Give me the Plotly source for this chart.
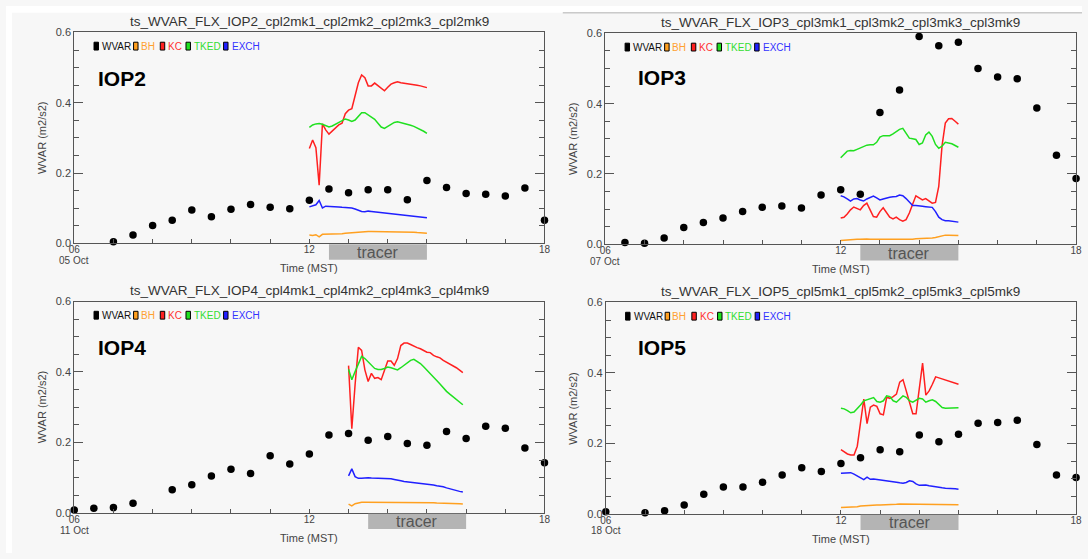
import plotly.graph_objects as go

W, H = 1088, 559
FONT = "Liberation Sans, Arial, sans-serif"

# ---------------- data ----------------
series_names = ["WVAR", "BH", "KC", "TKED", "EXCH"]
series_colors = ["#000000", "#ffa020", "#ff2020", "#20e020", "#2020ff"]
legend_text_colors = ["#111111", "#ffa030", "#ff3030", "#33dd33", "#3333ff"]

iop_names = ["IOP2", "IOP3", "IOP4", "IOP5"]
iop_dates = ["05 Oct", "07 Oct", "11 Oct", "18 Oct"]
iop_titles = [
    "ts_WVAR_FLX_IOP2_cpl2mk1_cpl2mk2_cpl2mk3_cpl2mk9",
    "ts_WVAR_FLX_IOP3_cpl3mk1_cpl3mk2_cpl3mk3_cpl3mk9",
    "ts_WVAR_FLX_IOP4_cpl4mk1_cpl4mk2_cpl4mk3_cpl4mk9",
    "ts_WVAR_FLX_IOP5_cpl5mk1_cpl5mk2_cpl5mk3_cpl5mk9",
]
x_tick_vals = [6, 12, 18]
x_tick_text = ["06", "12", "18"]
tracer_start = [12.5, 12.5, 13.5, 12.5]
tracer_end = [15.0, 15.0, 16.0, 15.0]
line_start = [12.0, 12.0, 13.0, 12.0]   # hour (MST) of first 5-min model value

# WVAR observations (half-hourly)
iop2_wvar_t = [7.0, 7.5, 8.0, 8.5, 9.0, 9.5, 10.0, 10.5, 11.0, 11.5, 12.0, 12.5,
               13.0, 13.5, 14.0, 14.5, 15.0, 15.5, 16.0, 16.5, 17.0, 17.5, 18.0]
iop2_wvar = [0.005, 0.024, 0.051, 0.066, 0.095, 0.076, 0.097, 0.111, 0.103, 0.099, 0.123, 0.155,
             0.144, 0.153, 0.153, 0.124, 0.179, 0.159, 0.142, 0.140, 0.135, 0.158, 0.066]

iop3_wvar_t = [6.5, 7.0, 7.5, 8.0, 8.5, 9.0, 9.5, 10.0, 10.5, 11.0, 11.5, 12.0,
               12.5, 13.0, 13.5, 14.0, 14.5, 15.0, 15.5, 16.0, 16.5, 17.0, 17.5, 18.0]
iop3_wvar = [0.005, 0.003, 0.018, 0.048, 0.062, 0.075, 0.093, 0.105, 0.109, 0.103, 0.140, 0.155,
             0.142, 0.375, 0.439, 0.591, 0.565, 0.575, 0.500, 0.476, 0.471, 0.388, 0.253, 0.187]

iop4_wvar_t = [6.0, 6.5, 7.0, 7.5, 8.5, 9.0, 9.5, 10.0, 10.5, 11.0, 11.5, 12.0,
               12.5, 13.0, 13.5, 14.0, 14.5, 15.0, 15.5, 16.0, 16.5, 17.0, 17.5, 18.0]
iop4_wvar = [0.008, 0.013, 0.015, 0.027, 0.066, 0.080, 0.105, 0.124, 0.112, 0.162, 0.139, 0.167,
             0.221, 0.225, 0.206, 0.217, 0.197, 0.192, 0.231, 0.211, 0.246, 0.240, 0.184, 0.142]

iop5_wvar_t = [6.0, 7.0, 7.5, 8.0, 8.5, 9.0, 9.5, 10.0, 10.5, 11.0, 11.5, 12.0,
               12.5, 13.0, 13.5, 14.0, 14.5, 15.0, 15.5, 16.0, 16.5, 17.0, 17.5, 18.0]
iop5_wvar = [0.006, 0.003, 0.009, 0.025, 0.056, 0.076, 0.076, 0.090, 0.110, 0.131, 0.120, 0.143,
             0.159, 0.182, 0.176, 0.224, 0.205, 0.226, 0.257, 0.259, 0.266, 0.197, 0.110, 0.103]

# model values, every 5 minutes from line_start
iop2_bh = [0.024, 0.023, 0.025, 0.019, 0.026, 0.026, 0.026, 0.027, 0.027, 0.028,
           0.028, 0.029, 0.030, 0.031, 0.032, 0.033, 0.034, 0.034, 0.034, 0.034,
           0.034, 0.034, 0.034, 0.034, 0.034, 0.034, 0.034, 0.034, 0.033, 0.033,
           0.033, 0.033, 0.032, 0.031, 0.031, 0.030, 0.029]
iop2_kc = [0.270, 0.294, 0.272, 0.166, 0.340, 0.323, 0.311, 0.320, 0.330, 0.337,
           0.342, 0.369, 0.379, 0.383, 0.420, 0.457, 0.479, 0.471, 0.448, 0.448,
           0.456, 0.448, 0.441, 0.434, 0.444, 0.453, 0.457, 0.460, 0.457, 0.456,
           0.455, 0.453, 0.452, 0.450, 0.448, 0.446, 0.443]
iop2_tked = [0.330, 0.337, 0.340, 0.341, 0.339, 0.334, 0.331, 0.334, 0.339, 0.344,
             0.348, 0.354, 0.351, 0.347, 0.351, 0.363, 0.372, 0.372, 0.365, 0.358,
             0.353, 0.342, 0.331, 0.327, 0.332, 0.337, 0.344, 0.346, 0.344, 0.341,
             0.339, 0.336, 0.333, 0.329, 0.325, 0.319, 0.313]
iop2_exch = [0.104, 0.106, 0.110, 0.122, 0.101, 0.106, 0.106, 0.105, 0.104, 0.104,
             0.103, 0.103, 0.102, 0.101, 0.098, 0.094, 0.091, 0.090, 0.092, 0.091,
             0.090, 0.089, 0.089, 0.088, 0.087, 0.086, 0.085, 0.084, 0.083, 0.082,
             0.081, 0.080, 0.079, 0.077, 0.076, 0.074, 0.073]

iop3_bh = [0.011, 0.012, 0.012, 0.013, 0.013, 0.014, 0.014, 0.015, 0.015, 0.014,
           0.014, 0.014, 0.013, 0.013, 0.013, 0.012, 0.012, 0.012, 0.012, 0.012,
           0.013, 0.013, 0.014, 0.016, 0.016, 0.017, 0.017, 0.018, 0.018, 0.019,
           0.022, 0.025, 0.026, 0.026, 0.026, 0.026, 0.025]
iop3_kc = [0.075, 0.077, 0.086, 0.098, 0.106, 0.101, 0.098, 0.110, 0.117, 0.098,
           0.079, 0.077, 0.093, 0.104, 0.089, 0.077, 0.072, 0.077, 0.070, 0.066,
           0.070, 0.089, 0.114, 0.138, 0.132, 0.126, 0.130, 0.123, 0.117, 0.119,
           0.165, 0.280, 0.345, 0.357, 0.358, 0.350, 0.342]
iop3_tked = [0.246, 0.256, 0.265, 0.267, 0.266, 0.270, 0.274, 0.276, 0.282, 0.283,
             0.283, 0.290, 0.305, 0.309, 0.309, 0.309, 0.314, 0.321, 0.327, 0.330,
             0.316, 0.302, 0.300, 0.298, 0.284, 0.288, 0.311, 0.319, 0.307, 0.284,
             0.273, 0.279, 0.290, 0.288, 0.286, 0.281, 0.276]
iop3_exch = [0.138, 0.135, 0.129, 0.123, 0.129, 0.130, 0.126, 0.123, 0.129, 0.132,
             0.137, 0.132, 0.126, 0.129, 0.132, 0.134, 0.135, 0.136, 0.140, 0.138,
             0.130, 0.119, 0.110, 0.110, 0.110, 0.108, 0.107, 0.106, 0.105, 0.093,
             0.077, 0.070, 0.067, 0.067, 0.066, 0.065, 0.063]

iop4_bh = [0.025, 0.020, 0.026, 0.029, 0.030, 0.030, 0.030, 0.030, 0.030, 0.030,
           0.030, 0.030, 0.030, 0.031, 0.030, 0.031, 0.031, 0.031, 0.031, 0.031,
           0.030, 0.030, 0.030, 0.029, 0.029, 0.029, 0.029, 0.028, 0.028, 0.028,
           0.027, 0.027, 0.026, 0.026, 0.026, 0.025]
iop4_kc = [0.418, 0.239, 0.364, 0.470, 0.461, 0.406, 0.373, 0.396, 0.382, 0.384,
           0.378, 0.406, 0.431, 0.431, 0.419, 0.438, 0.475, 0.482, 0.482, 0.478,
           0.473, 0.469, 0.466, 0.461, 0.456, 0.455, 0.447, 0.443, 0.440, 0.433,
           0.428, 0.423, 0.418, 0.412, 0.405, 0.398]
iop4_tked = [0.408, 0.378, 0.401, 0.424, 0.444, 0.438, 0.429, 0.419, 0.410, 0.407,
             0.407, 0.410, 0.414, 0.412, 0.408, 0.406, 0.412, 0.419, 0.427, 0.433,
             0.436, 0.431, 0.424, 0.415, 0.406, 0.396, 0.387, 0.376, 0.366, 0.355,
             0.345, 0.337, 0.329, 0.321, 0.314, 0.307]
iop4_exch = [0.105, 0.125, 0.103, 0.098, 0.098, 0.100, 0.100, 0.099, 0.099, 0.099,
             0.099, 0.098, 0.098, 0.097, 0.095, 0.094, 0.091, 0.089, 0.088, 0.087,
             0.087, 0.086, 0.085, 0.084, 0.083, 0.081, 0.079, 0.077, 0.076, 0.074,
             0.071, 0.068, 0.066, 0.063, 0.061, 0.059]

iop5_bh = [0.018, 0.018, 0.018, 0.018, 0.019, 0.020, 0.022, 0.023, 0.023, 0.024,
           0.025, 0.025, 0.025, 0.025, 0.026, 0.026, 0.027, 0.027, 0.028, 0.028,
           0.028, 0.027, 0.027, 0.027, 0.028, 0.028, 0.028, 0.028, 0.028, 0.028,
           0.028, 0.028, 0.028, 0.027, 0.027, 0.027, 0.026]
iop5_kc = [0.182, 0.175, 0.170, 0.167, 0.167, 0.192, 0.261, 0.326, 0.256, 0.303,
           0.309, 0.305, 0.284, 0.281, 0.331, 0.328, 0.333, 0.340, 0.374, 0.381,
           0.349, 0.319, 0.284, 0.284, 0.354, 0.428, 0.337, 0.349, 0.368, 0.389,
           0.386, 0.383, 0.380, 0.375, 0.372, 0.370, 0.368]
iop5_tked = [0.300, 0.298, 0.293, 0.287, 0.289, 0.298, 0.309, 0.321, 0.324, 0.326,
             0.330, 0.319, 0.317, 0.321, 0.335, 0.333, 0.321, 0.317, 0.326, 0.335,
             0.331, 0.321, 0.317, 0.323, 0.328, 0.326, 0.317, 0.321, 0.324, 0.319,
             0.309, 0.302, 0.300, 0.300, 0.300, 0.300, 0.301]
iop5_exch = [0.115, 0.116, 0.117, 0.117, 0.113, 0.108, 0.103, 0.097, 0.104, 0.098,
             0.099, 0.098, 0.097, 0.095, 0.094, 0.094, 0.093, 0.090, 0.088, 0.087,
             0.089, 0.094, 0.092, 0.085, 0.081, 0.082, 0.082, 0.080, 0.078, 0.076,
             0.075, 0.074, 0.073, 0.073, 0.072, 0.071, 0.070]

wvar_t = [iop2_wvar_t, iop3_wvar_t, iop4_wvar_t, iop5_wvar_t]
wvar_v = [iop2_wvar, iop3_wvar, iop4_wvar, iop5_wvar]
model = [
    [iop2_bh, iop2_kc, iop2_tked, iop2_exch],
    [iop3_bh, iop3_kc, iop3_tked, iop3_exch],
    [iop4_bh, iop4_kc, iop4_tked, iop4_exch],
    [iop5_bh, iop5_kc, iop5_tked, iop5_exch],
]

# ---------------- layout geometry (pixels) ----------------
# (left, right, top, bottom) of each plot frame
frames = [(69, 544.5, 27, 242.7), (606, 1082, 28, 243.5),
          (69, 544.5, 302, 518), (606.5, 1082, 303, 519)]
iop_label_dx = [22, 31, 22, 31]
iop_label_dy = [47, 45, 47, 46]
legend_sq_dx = [20, 60, 87, 113, 151]
legend_tx_dx = [26, 65, 93, 119, 157]

def px(x):
    return x / W

def py(y):
    return 1 - y / H

FRAME = "#555555"
TICKF = dict(family=FONT, size=11, color="#444444")
XTICKF = dict(family=FONT, size=10, color="#444444")

fig = go.Figure()
shapes = []
annots = []
layout = {}

for k in range(4):
    sfx = "" if k == 0 else str(k + 1)
    xa, ya = "x" + sfx, "y" + sfx
    L, R, T, B = frames[k]

    fig.add_trace(go.Scatter(
        x=wvar_t[k], y=wvar_v[k], mode="markers", xaxis=xa, yaxis=ya,
        marker=dict(color="black", size=7.5, line=dict(width=0)),
        cliponaxis=False, showlegend=False, hoverinfo="skip"))
    start = line_start[k]
    for s in range(4):
        vals = model[k][s]
        times = [start + i * 5.0 / 60.0 for i in range(len(vals))]
        fig.add_trace(go.Scatter(
            x=times, y=vals, mode="lines", xaxis=xa, yaxis=ya,
            line=dict(color=series_colors[s + 1], width=1.5),
            showlegend=False, hoverinfo="skip"))

    layout["xaxis" + sfx] = dict(
        domain=[px(L), px(R)], range=[6, 18], anchor=ya,
        tickmode="array", tickvals=x_tick_vals, ticktext=x_tick_text,
        ticks="inside", ticklen=4, tickcolor=FRAME, tickwidth=1,
        ticklabelstandoff=-3,
        minor=dict(tick0=6, dtick=1, ticks="inside", ticklen=4,
                   tickcolor=FRAME, showgrid=False),
        showline=True, linecolor=FRAME, linewidth=1, mirror=True,
        showgrid=False, zeroline=False, tickfont=XTICKF, fixedrange=True)
    layout["yaxis" + sfx] = dict(
        domain=[py(B), py(T)], range=[0, 0.6], anchor=xa,
        tick0=0, dtick=0.2, tickformat=".1f",
        ticks="inside", ticklen=9, tickcolor=FRAME, tickwidth=1,
        minor=dict(dtick=0.05, ticks="inside", ticklen=5,
                   tickcolor=FRAME, showgrid=False),
        showline=True, linecolor=FRAME, linewidth=1, mirror="ticks",
        showgrid=False, zeroline=False, tickfont=TICKF, fixedrange=True)

    # title
    annots.append(dict(x=px((L + R) / 2), y=py(T - 11), xref="paper", yref="paper",
                       text=iop_titles[k], showarrow=False,
                       font=dict(family=FONT, size=13.5, color="#333333"),
                       xanchor="center", yanchor="middle"))
    # axis titles
    annots.append(dict(x=px((L + R) / 2), y=py(B + 25.5), xref="paper", yref="paper",
                       text="Time (MST)", showarrow=False,
                       font=dict(family=FONT, size=11, color="#444444"),
                       xanchor="center", yanchor="middle"))
    annots.append(dict(x=px(L - 32.5), y=py((T + B) / 2), xref="paper", yref="paper",
                       text="WVAR (m2/s2)", showarrow=False, textangle=-90,
                       font=dict(family=FONT, size=11, color="#444444"),
                       xanchor="center", yanchor="middle"))
    # date under first tick
    annots.append(dict(x=px(L), y=py(B + 17.5), xref="paper", yref="paper",
                       text=iop_dates[k], showarrow=False,
                       font=dict(family=FONT, size=10, color="#444444"),
                       xanchor="center", yanchor="middle"))
    # IOP label
    annots.append(dict(x=px(L + iop_label_dx[k]), y=py(T + iop_label_dy[k]),
                       xref="paper", yref="paper", text="<b>%s</b>" % iop_names[k],
                       showarrow=False, font=dict(family=FONT, size=21, color="black"),
                       xanchor="left", yanchor="middle"))
    # legend
    for j in range(5):
        shapes.append(dict(type="rect", xref="paper", yref="paper",
                           x0=px(L + legend_sq_dx[j]), x1=px(L + legend_sq_dx[j] + 4.5),
                           y0=py(T + 18), y1=py(T + 10),
                           fillcolor=series_colors[j], line=dict(color="black", width=1)))
        annots.append(dict(x=px(L + legend_tx_dx[j]), y=py(T + 14), xref="paper", yref="paper",
                           text=series_names[j], showarrow=False,
                           font=dict(family=FONT, size=10, color=legend_text_colors[j]),
                           xanchor="left", yanchor="middle"))
    # tracer bar
    shapes.append(dict(type="rect", xref=xa, yref="paper",
                       x0=tracer_start[k], x1=tracer_end[k],
                       y0=py(B + 16.5), y1=py(B + 0.8),
                       fillcolor="#b4b4b4", line=dict(width=0), layer="above"))
    annots.append(dict(x=(tracer_start[k] + tracer_end[k]) / 2, y=py(B + 9),
                       xref=xa, yref="paper", text="tracer", showarrow=False,
                       font=dict(family=FONT, size=16, color="#555555"),
                       xanchor="center", yanchor="middle"))

# white page edges of the original screenshot collage
shapes.append(dict(type="rect", xref="paper", yref="paper", x0=0, x1=1,
                   y0=py(7), y1=1, fillcolor="white", line=dict(width=0), layer="below"))
shapes.append(dict(type="rect", xref="paper", yref="paper", x0=0, x1=px(6),
                   y0=0, y1=1, fillcolor="white", line=dict(width=0), layer="below"))
shapes.append(dict(type="line", xref="paper", yref="paper", x0=px(563), x1=1,
                   y0=py(7), y1=py(7), line=dict(color="#b0b0b0", width=1), layer="below"))

fig.update_layout(
    width=W, height=H, margin=dict(l=0, r=0, t=0, b=0, pad=0),
    paper_bgcolor="#f7f7f7", plot_bgcolor="#f7f7f7",
    font=dict(family=FONT), showlegend=False,
    shapes=shapes, annotations=annots, **layout)

fig.write_html("out.html", config={"displayModeBar": False},
               post_script="document.body.style.margin='0';document.body.style.overflow='hidden';")
